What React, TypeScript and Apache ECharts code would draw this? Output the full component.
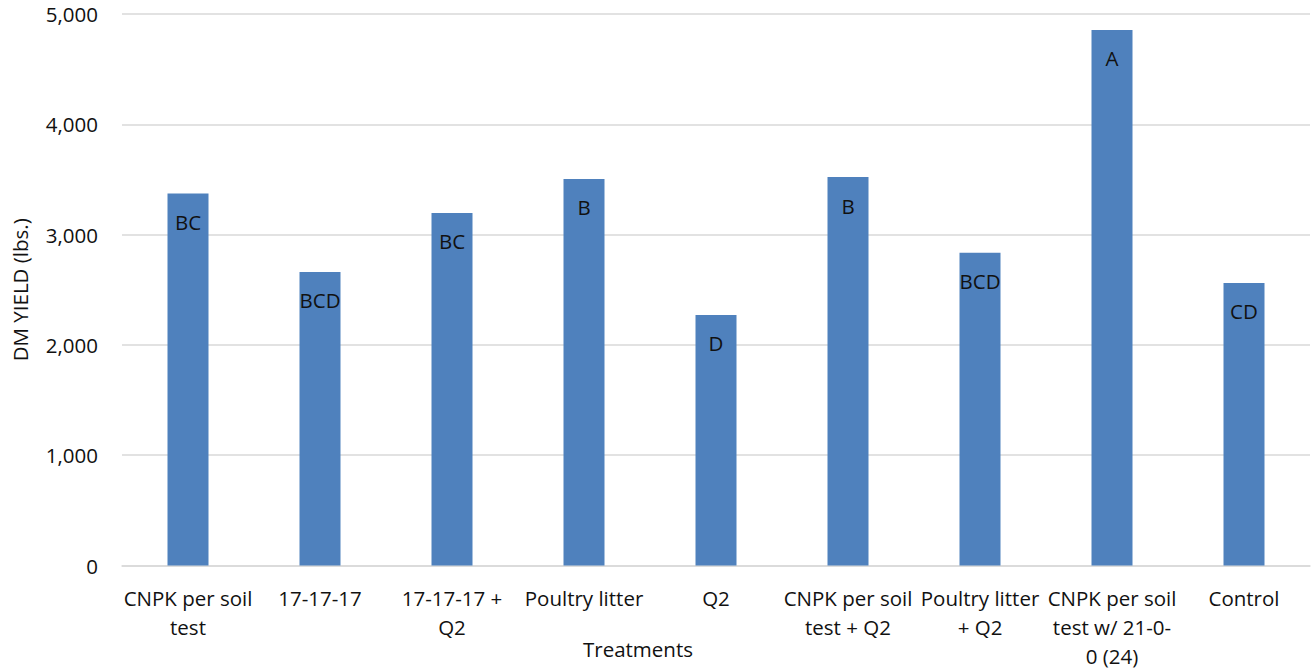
import React, { useEffect, useRef } from "react";
import * as echarts from "echarts";

const categories = [
  "CNPK per soil\ntest",
  "17-17-17",
  "17-17-17 +\nQ2",
  "Poultry litter",
  "Q2",
  "CNPK per soil\ntest + Q2",
  "Poultry litter\n+ Q2",
  "CNPK per soil\ntest w/ 21-0-\n0 (24)",
  "Control",
];
const yieldValues = [3372, 2662, 3196, 3505, 2272, 3522, 2836, 4855, 2562];
const letters = ["BC", "BCD", "BC", "B", "D", "B", "BCD", "A", "CD"];

const FONT = "'Open Sans', Roboto, sans-serif";
const FS = 20.5;
const TXT = "#111111";

export default function App() {
  const ref = useRef<HTMLDivElement>(null);
  useEffect(() => {
    const chart = echarts.init(ref.current!, null, { renderer: "svg" });
    chart.setOption({
      animation: false,
      grid: {
        left: 122,
        right: 2,
        top: 14,
        bottom: 104.5,
        containLabel: false,
        outerBoundsMode: "none",
      },
      xAxis: {
        type: "category",
        data: categories,
        name: "Treatments",
        nameLocation: "middle",
        nameGap: 73,
        nameMoveOverlap: false,
        nameTextStyle: {
          fontSize: FS,
          color: TXT,
          fontFamily: FONT,
          padding: [0, 156, 0, 0],
        },
        axisLine: { lineStyle: { color: "#d9d9d9", width: 1.5 } },
        axisTick: { show: false },
        axisLabel: {
          fontSize: FS,
          color: TXT,
          fontFamily: FONT,
          lineHeight: 29,
          margin: 18,
          interval: 0,
        },
      },
      yAxis: {
        type: "value",
        min: 0,
        max: 5000,
        interval: 1000,
        name: "DM YIELD (lbs.)",
        nameLocation: "middle",
        nameGap: 92,
        nameMoveOverlap: false,
        nameTextStyle: { fontSize: FS, color: TXT, fontFamily: FONT },
        axisLine: { show: false },
        axisTick: { show: false },
        splitLine: { lineStyle: { color: "#d9d9d9", width: 1.5 } },
        axisLabel: {
          fontSize: FS,
          color: TXT,
          fontFamily: FONT,
          margin: 24,
          formatter: (v: number) => v.toLocaleString("en-US"),
        },
      },
      series: [
        {
          type: "bar",
          data: yieldValues,
          barWidth: 41,
          itemStyle: { color: "#4f81bd" },
          label: {
            show: true,
            position: "insideTop",
            distance: 18,
            fontSize: FS,
            color: TXT,
            fontFamily: FONT,
            formatter: (p: any) => letters[p.dataIndex],
          },
        },
      ],
    });
    return () => chart.dispose();
  }, []);
  return (
    <div
      ref={ref}
      style={{ position: "absolute", left: 0, top: 0, width: 1312, height: 670 }}
    />
  );
}
